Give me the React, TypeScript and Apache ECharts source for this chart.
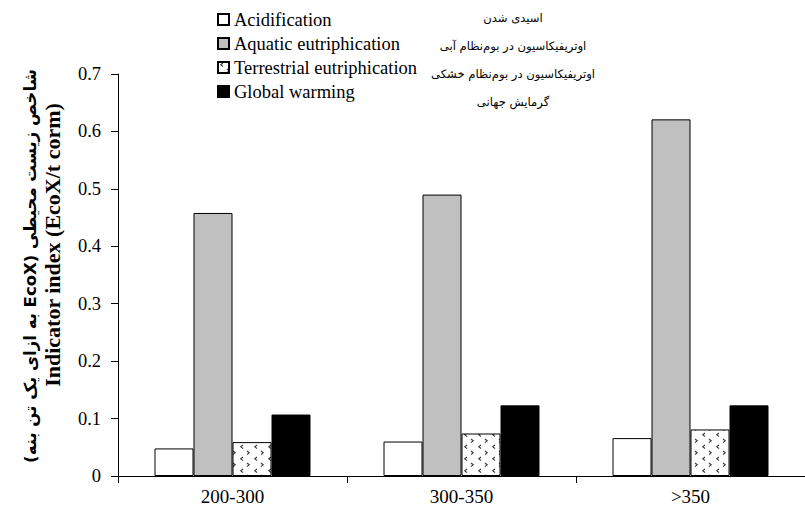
import React, { useEffect, useRef } from "react";
import * as echarts from "echarts";

const categories = ["200-300", "300-350", ">350"];
const seriesNames = ["Acidification", "Aquatic eutriphication", "Terrestrial eutriphication", "Global warming"];
const persianNames = ["اسیدی شدن", "اوتریفیکاسیون در بوم‌نظام آبی", "اوتریفیکاسیون در بوم‌نظام خشکی", "گرمایش جهانی"];
const acidification = [0.048, 0.06, 0.066];
const aquatic = [0.458, 0.49, 0.621];
const terrestrial = [0.059, 0.074, 0.081];
const globalWarming = [0.107, 0.123, 0.123];
const yTitleEn = "Indicator index (EcoX/t corm)";
const yTitleFa = "شاخص زیست محیطی (EcoX به ازای یک تن بنه)";

function makePattern(): string {
  const c = document.createElement("canvas");
  c.width = 14;
  c.height = 12;
  const ctx = c.getContext("2d")!;
  ctx.fillStyle = "#ffffff";
  ctx.fillRect(0, 0, 14, 12);
  ctx.strokeStyle = "#404040";
  ctx.lineWidth = 1.2;
  ctx.beginPath();
  ctx.moveTo(5, 1);
  ctx.lineTo(2.8, 2.8);
  ctx.lineTo(5, 4.6);
  ctx.moveTo(9, 7);
  ctx.lineTo(11.2, 8.8);
  ctx.lineTo(9, 10.6);
  ctx.stroke();
  return c.toDataURL();
}

export default function App() {
  const ref = useRef<HTMLDivElement>(null);
  useEffect(() => {
    document.body.style.margin = "0";
    const chart = echarts.init(ref.current!, undefined, { renderer: "svg" });
    const pattern = { image: makePattern(), repeat: "repeat" };
    const serif = "Liberation Serif";
    const mk = (name: string, data: number[], color: any) => ({
      name,
      type: "bar",
      data,
      barWidth: 39,
      barGap: "0%",
      itemStyle: { color, borderColor: "#000", borderWidth: 1 },
    });
    chart.setOption({
      animation: false,
      backgroundColor: "#fff",
      textStyle: { fontFamily: serif },
      grid: { left: 118, top: 74, width: 697, height: 402 },
      legend: {
        orient: "vertical",
        left: 217,
        top: 10,
        padding: 0,
        itemWidth: 11,
        itemHeight: 11,
        itemGap: 5,
        icon: "rect",
        data: seriesNames,
        textStyle: { fontFamily: serif, fontSize: 18.5, lineHeight: 18, color: "#000" },
      },
      xAxis: {
        type: "category",
        data: categories,
        axisLine: { lineStyle: { color: "#000", width: 1 } },
        axisTick: { show: true, length: 7, lineStyle: { color: "#000" } },
        axisLabel: { fontFamily: serif, fontSize: 19, color: "#000", margin: 11 },
      },
      yAxis: {
        type: "value",
        min: 0,
        max: 0.7,
        interval: 0.1,
        axisLine: { show: true, lineStyle: { color: "#000", width: 1 } },
        axisTick: { show: true, length: 7, lineStyle: { color: "#000" } },
        splitLine: { show: false },
        axisLabel: {
          fontFamily: serif,
          fontSize: 18.5,
          color: "#000",
          margin: 17,
          formatter: (v: number) => (v === 0 ? "0" : v.toFixed(1)),
        },
      },
      graphic: [
        ...persianNames.map((t, i) => ({
          type: "text",
          x: 513,
          y: [18, 46, 74, 102][i],
          style: {
            text: "\u202B" + t + "\u202C",
            fontFamily: "DejaVu Sans",
            fontSize: 11.6,
            fill: "#000",
            align: "center",
            verticalAlign: "middle",
          },
        })),
        {
          type: "text",
          x: 52,
          y: 245,
          rotation: Math.PI / 2,
          style: {
            text: yTitleEn,
            fontFamily: serif,
            fontWeight: "bold",
            fontSize: 22,
            fill: "#000",
            align: "center",
            verticalAlign: "middle",
          },
        },
        {
          type: "text",
          x: 30,
          y: 266,
          rotation: Math.PI / 2,
          style: {
            text: "\u202B" + yTitleFa + "\u202C",
            fontFamily: "DejaVu Sans",
            fontWeight: "bold",
            fontSize: 16.5,
            fill: "#000",
            align: "center",
            verticalAlign: "middle",
          },
        },
      ],
      series: [
        mk(seriesNames[0], acidification, "#ffffff"),
        mk(seriesNames[1], aquatic, "#c0c0c0"),
        mk(seriesNames[2], terrestrial, pattern),
        mk(seriesNames[3], globalWarming, "#000000"),
      ],
    });
    return () => chart.dispose();
  }, []);
  return <div ref={ref} style={{ width: 805, height: 517 }} />;
}
